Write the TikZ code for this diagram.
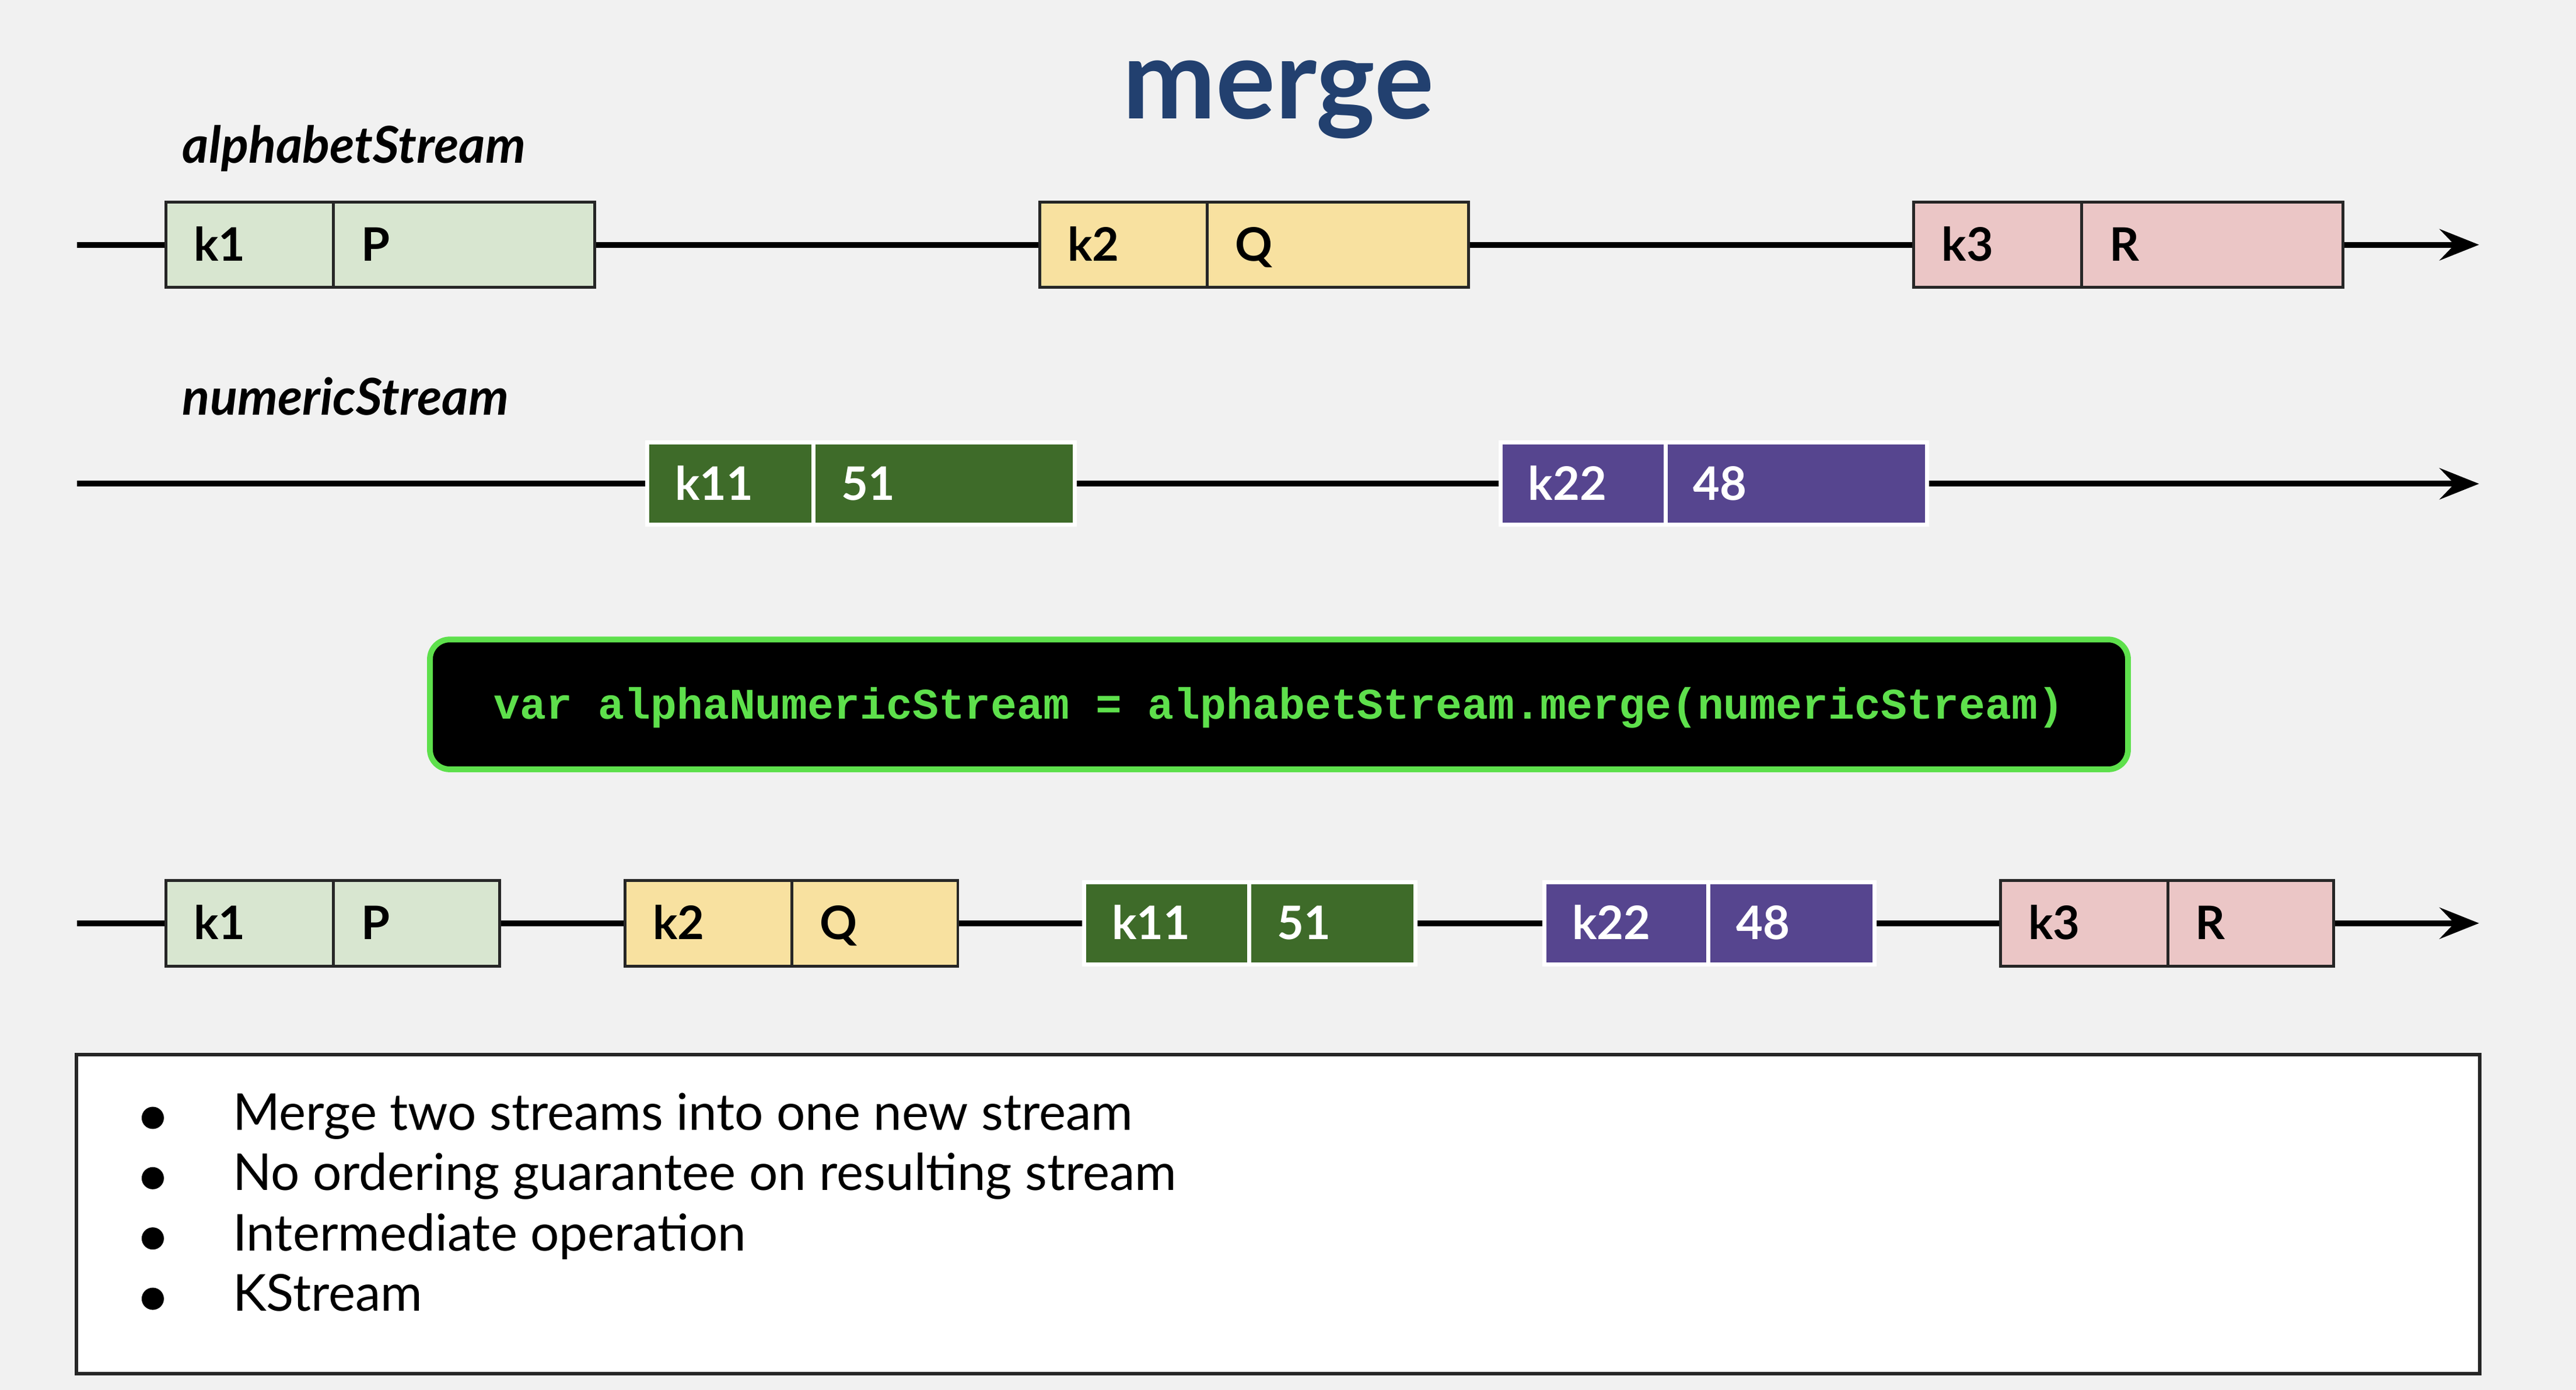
\documentclass[tikz,border=0pt]{standalone}
\usepackage{fontspec}
\setmainfont{Lato}
\newfontfamily\codefont{Liberation Mono}
\usetikzlibrary{arrows.meta}

\definecolor{pagebg}{HTML}{F1F1F1}
\definecolor{boxline}{HTML}{262626}
\definecolor{alphagreen}{HTML}{D8E6D0}
\definecolor{alphayellow}{HTML}{F8E1A0}
\definecolor{alphapink}{HTML}{EBC6C6}
\definecolor{numgreen}{HTML}{3E6B29}
\definecolor{numpurple}{HTML}{56458F}
\definecolor{codegreen}{HTML}{5EE04C}
\definecolor{titleblue}{HTML}{22406F}

\begin{document}
\begin{tikzpicture}[x=0.01cm,y=-0.01cm]
\tikzset{cell/.style = {shape=rectangle,minimum height=0.52cm,inner xsep=0.17cm,inner ysep=0pt,text height=0.2cm,text depth=0pt,align=left,font=\bfseries\fontsize{8pt}{9.6pt}\selectfont}}
\tikzset{lightcell/.style = {cell,draw=boxline,line width=0.5pt}}
\tikzset{darkcell/.style = {cell,minimum height=0.5cm,draw=white,line width=0.7pt,text=white}}
\tikzset{keycell/.style = {text width=0.68cm}}
\tikzset{valcell/.style = {text width=1.25cm}}
\tikzset{shortcell/.style = {text width=0.67cm}}
\tikzset{streamline/.style = {line width=1pt}}
\tikzset{streamarrow/.style = {streamline,-{Stealth[length=2.4mm,width=1.9mm,inset=0.9mm]}}}
\tikzset{streamname/.style = {anchor=base west,inner sep=0pt,font=\bfseries\itshape\fontsize{8.8pt}{10.4pt}\selectfont}}
\tikzset{codebox/.style = {rounded corners=0.12cm,fill=black,draw=codegreen,line width=1pt,minimum width=10.33cm,minimum height=0.79cm,text=codegreen,text height=0.18cm,text depth=0pt,font=\codefont\bfseries\fontsize{7.55pt}{9pt}\selectfont}}
\tikzset{bulletdot/.style = {shape=circle,fill=black,inner sep=0pt,minimum size=0.135cm}}
\tikzset{bulletline/.style = {anchor=base west,inner sep=0pt,font=\fontsize{8.8pt}{10.5pt}\selectfont}}

\useasboundingbox (0,0) rectangle (1568,846);
\fill[pagebg] (0,0) rectangle (1568,846);

% title

\node[anchor=base,inner sep=0pt,text=titleblue,font=\bfseries\fontsize{19.3pt}{23pt}\selectfont] (title) at (778,72.4) {merge};

% alphabetStream

\node[streamname] (alphalabel) at (110.4,99.4) {alphabetStream};
\node[lightcell,keycell,fill=alphagreen] (a1k) at (152,149) {k1};
\node[lightcell,valcell,fill=alphagreen] (a1v) at (282.5,149) {P};
\node[lightcell,keycell,fill=alphayellow] (a2k) at (684,149) {k2};
\node[lightcell,valcell,fill=alphayellow] (a2v) at (814.5,149) {Q};
\node[lightcell,keycell,fill=alphapink] (a3k) at (1216,149) {k3};
\node[lightcell,valcell,fill=alphapink] (a3v) at (1346.5,149) {R};
\coordinate (astart) at (47,149);
\coordinate (aend) at (1509,149);

\draw[streamline] (astart) -- (a1k);
\draw[streamline] (a1v) -- (a2k);
\draw[streamline] (a2v) -- (a3k);
\draw[streamarrow] (a3v) -- (aend);

% numericStream

\node[streamname] (numlabel) at (110.4,252.5) {numericStream};
\node[darkcell,keycell,fill=numgreen] (n1k) at (445,294.5) {k11};
\node[darkcell,valcell,fill=numgreen] (n1v) at (574.6,294.5) {51};
\node[darkcell,keycell,fill=numpurple] (n2k) at (964.3,294.5) {k22};
\node[darkcell,valcell,fill=numpurple] (n2v) at (1093.3,294.5) {48};
\coordinate (nstart) at (47,294.5);
\coordinate (nend) at (1509,294.5);

\draw[streamline] (nstart) -- (n1k);
\draw[streamline] (n1v) -- (n2k);
\draw[streamarrow] (n2v) -- (nend);

% merge call

\node[codebox] (code) at (778.5,428.8) {var alphaNumericStream = alphabetStream.merge(numericStream)};

% merged stream

\node[lightcell,keycell,fill=alphagreen] (m1k) at (152,562) {k1};
\node[lightcell,shortcell,fill=alphagreen] (m1v) at (253.5,562) {P};
\node[lightcell,keycell,fill=alphayellow] (m2k) at (431.5,562) {k2};
\node[lightcell,shortcell,fill=alphayellow] (m2v) at (532.5,562) {Q};
\node[darkcell,keycell,fill=numgreen] (m3k) at (711,562) {k11};
\node[darkcell,shortcell,fill=numgreen] (m3v) at (811,562) {51};
\node[darkcell,keycell,fill=numpurple] (m4k) at (991,562) {k22};
\node[darkcell,shortcell,fill=numpurple] (m4v) at (1090.5,562) {48};
\node[lightcell,keycell,fill=alphapink] (m5k) at (1268.8,562) {k3};
\node[lightcell,shortcell,fill=alphapink] (m5v) at (1370,562) {R};
\coordinate (mstart) at (47,562);
\coordinate (mend) at (1509,562);

\draw[streamline] (mstart) -- (m1k);
\draw[streamline] (m1v) -- (m2k);
\draw[streamline] (m2v) -- (m3k);
\draw[streamline] (m3v) -- (m4k);
\draw[streamline] (m4v) -- (m5k);
\draw[streamarrow] (m5v) -- (mend);

% notes

\node[shape=rectangle,fill=white,draw=boxline,line width=0.6pt,minimum width=14.62cm,minimum height=1.94cm] (notes) at (778,739) {};

\node[bulletdot] (b1) at (93,680.5) {};
\node[bulletdot] (b2) at (93,717.2) {};
\node[bulletdot] (b3) at (93,753.9) {};
\node[bulletdot] (b4) at (93,790.6) {};
\node[bulletline] (t1) at (141,688) {Merge two streams into one new stream};
\node[bulletline] (t2) at (141,724.7) {No ordering guarantee on resulting stream};
\node[bulletline] (t3) at (141,761.4) {Intermediate operation};
\node[bulletline] (t4) at (141,798.1) {KStream};
\end{tikzpicture}
\end{document}
